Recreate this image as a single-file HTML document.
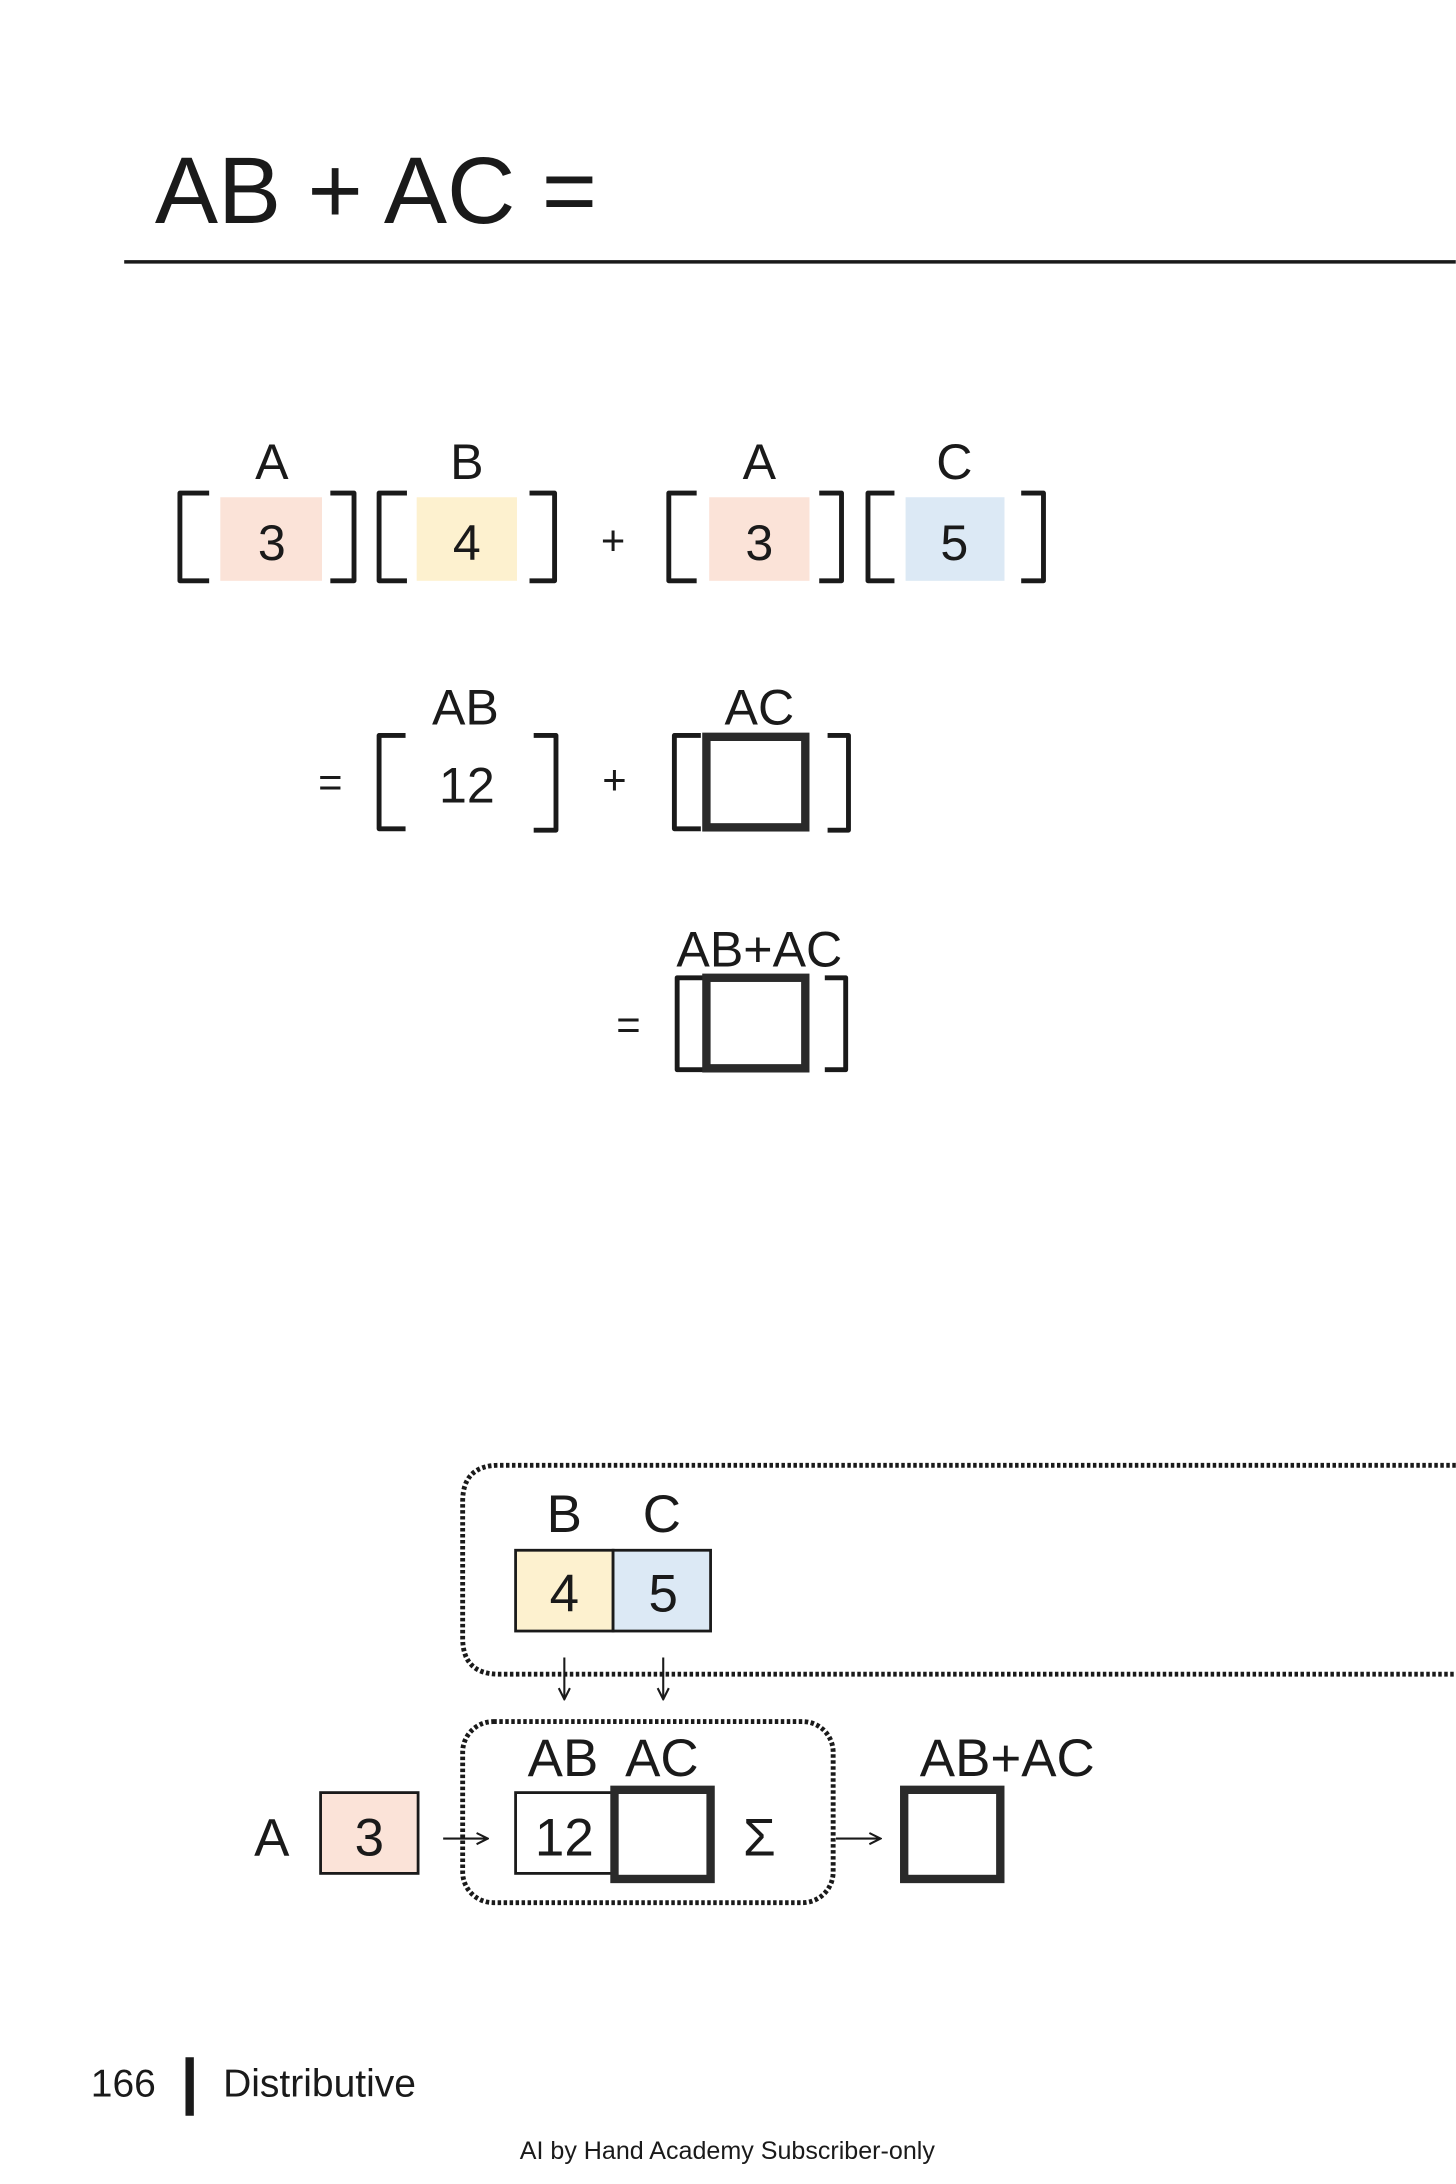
<!DOCTYPE html>
<html><head><meta charset="utf-8"><style>
html,body{margin:0;padding:0;background:#fff;}
svg{display:block;}
text{font-family:"Liberation Sans",sans-serif;fill:#1a1a1a;}
</style></head><body>
<svg width="1456" height="2184" viewBox="0 0 1045 1568" xmlns="http://www.w3.org/2000/svg">
<defs>
<marker id="ah" markerWidth="10" markerHeight="10" refX="9" refY="5" orient="auto" markerUnits="userSpaceOnUse">
<path d="M1,1 L9,5 L1,9" fill="none" stroke="#1a1a1a" stroke-width="1.5"/>
</marker>
</defs>
<text x="111" y="160" font-size="68">AB + AC  =</text>
<line x1="89" y1="188" x2="1045" y2="188" stroke="#1a1a1a" stroke-width="2.5"/>

<g fill="none" stroke="#1a1a1a" stroke-width="3.5" stroke-linejoin="round">
<!-- row1 brackets -->
<path d="M150,354 H129 V417 H150"/><path d="M237,354 H254 V417 H237"/>
<path d="M292,354 H272 V417 H292"/><path d="M380,354 H398 V417 H380"/>
<path d="M500,354 H480 V417 H500"/><path d="M588,354 H604 V417 H588"/>
<path d="M642,354 H623 V417 H642"/><path d="M733,354 H749 V417 H733"/>
<!-- row2 -->
<path d="M291,528 H272 V595 H291"/><path d="M383,528 H399 V596 H383"/>
<path d="M503,528 H484 V595 H503"/><path d="M594,528 H609 V596 H594"/>
<!-- row3 -->
<path d="M505,702 H486 V768 H505"/><path d="M592,702 H607 V768 H592"/>
</g>
<rect x="158" y="357" width="73" height="60" fill="#fbe3d8"/>
<rect x="299" y="357" width="72" height="60" fill="#fdf1cf"/>
<rect x="509" y="357" width="72" height="60" fill="#fbe3d8"/>
<rect x="650" y="357" width="71" height="60" fill="#dce9f5"/>
<g font-size="36" text-anchor="middle">
<text x="195" y="344">A</text><text x="335" y="344">B</text><text x="545" y="344">A</text><text x="685" y="344">C</text>
<text x="195" y="402">3</text><text x="335" y="402">4</text><text x="545" y="402">3</text><text x="685" y="402">5</text>
<text x="440" y="398" font-size="30">+</text>
<text x="237" y="572" font-size="30">=</text>
<text x="334" y="520">AB</text><text x="335" y="576">12</text>
<text x="441" y="570" font-size="30">+</text>
<text x="545" y="520">AC</text>
<text x="451" y="746" font-size="30">=</text>
<text x="545" y="694">AB+AC</text>
</g>
<rect x="507" y="529" width="71" height="65" fill="#fff" stroke="#2a2a2a" stroke-width="6"/>
<rect x="507" y="702" width="71" height="65" fill="#fff" stroke="#2a2a2a" stroke-width="6"/>

<!-- bottom -->
<g fill="none" stroke="#1a1a1a" stroke-width="3.5" stroke-dasharray="2.5 1.8">
<path d="M1045,1052 H358 Q332,1052 332,1078 V1176 Q332,1202 358,1202 H1045"/>
<rect x="332" y="1236" width="266" height="130" rx="22"/>
</g>
<rect x="370" y="1113" width="70" height="58" fill="#fdf1cf" stroke="#1a1a1a" stroke-width="2"/>
<rect x="440" y="1113" width="70" height="58" fill="#dce9f5" stroke="#1a1a1a" stroke-width="2"/>
<rect x="230" y="1287" width="70" height="58" fill="#fbe3d8" stroke="#1a1a1a" stroke-width="2"/>
<rect x="370" y="1287" width="70" height="58" fill="#fff" stroke="#1a1a1a" stroke-width="2"/>
<rect x="441" y="1285" width="69" height="64" fill="#fff" stroke="#2a2a2a" stroke-width="6"/>
<rect x="649" y="1285" width="69" height="64" fill="#fff" stroke="#2a2a2a" stroke-width="6"/>
<g stroke="#1a1a1a" stroke-width="1.5" marker-end="url(#ah)">
<line x1="405" y1="1190" x2="405" y2="1220"/>
<line x1="476" y1="1190" x2="476" y2="1220"/>
<line x1="318" y1="1320" x2="350" y2="1320"/>
<line x1="600" y1="1320" x2="632" y2="1320"/>
</g>
<g font-size="38" text-anchor="middle">
<text x="405" y="1100">B</text><text x="475" y="1100">C</text>
<text x="405" y="1157">4</text><text x="476" y="1157">5</text>
<text x="404" y="1275">AB</text><text x="475" y="1275">AC</text>
<text x="405" y="1332">12</text>
<text x="545" y="1332">Σ</text>
<text x="195" y="1332">A</text><text x="265" y="1332">3</text>
<text x="723" y="1275">AB+AC</text>
</g>
<text x="65" y="1505" font-size="28">166</text>
<rect x="133" y="1477" width="6" height="42" fill="#1a1a1a"/>
<text x="160" y="1505" font-size="28">Distributive</text>
<text x="522" y="1550" font-size="18" text-anchor="middle">AI by Hand Academy Subscriber-only</text>
</svg>
</body></html>
